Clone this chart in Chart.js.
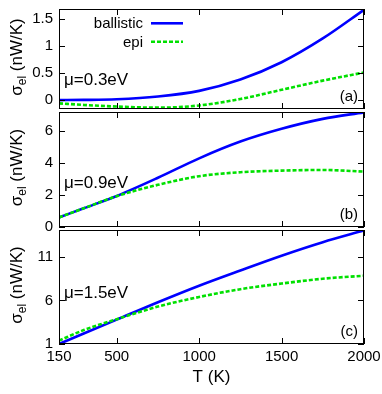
<!DOCTYPE html>
<html>
<head>
<meta charset="utf-8">
<script src="https://cdn.jsdelivr.net/npm/chart.js@4.4.1/dist/chart.umd.min.js"></script>
<style>
    body { margin: 0; background: #fff; }
    #wrap { position: relative; width: 382px; height: 394px; overflow: hidden; }
    canvas { position: absolute; left: 0; }
</style>
</head>
<body>
<div id="wrap">
    <canvas id="chartA" width="382" height="125" style="top:0px"></canvas>
    <canvas id="chartB" width="382" height="140" style="top:100px"></canvas>
    <canvas id="chartC" width="382" height="176" style="top:218px"></canvas>
</div>
<script>
// nhiệt độ T (K)
var temps = [150, 300, 500, 750, 1000, 1250, 1500, 1750, 2000];

// mu = 0.3 eV
var ballisticA = [0.0, 0.003, 0.015, 0.065, 0.17, 0.38, 0.7, 1.14, 1.67];
var epiA = [-0.06, -0.09, -0.12, -0.14, -0.1, 0.02, 0.19, 0.36, 0.51];
// mu = 0.9 eV
var ballisticB = [0.6, 1.17, 1.94, 3.08, 4.3, 5.35, 6.15, 6.77, 7.18];
var epiB = [0.6, 1.17, 1.93, 2.64, 3.18, 3.43, 3.53, 3.57, 3.47];
// mu = 1.5 eV
var ballisticC = [1.0, 2.2, 3.8, 5.8, 7.7, 9.45, 11.15, 12.7, 14.05];
var epiC = [1.39, 2.6, 3.85, 5.3, 6.4, 7.3, 7.95, 8.5, 8.85];

var ticksT = [150, 500, 1000, 1500, 2000];
var ticksA = [0, 0.5, 1, 1.5];
var ticksB = [0, 2, 4, 6];
var ticksC = [1, 6, 11];

var FONT = '"Liberation Sans", Arial, sans-serif';

// khung + vạch chia hướng vào trong, nhãn trục y, nhãn mu, (a)/(b)/(c), chú thích
var framePlugin = {
    id: 'frame',
    afterDraw(chart) {
        const ctx = chart.ctx;
        const area = chart.chartArea;
        const xs = chart.scales.x;
        const ys = chart.scales.y;
        const opt = chart.options.plugins.frame;
        const tl = 6;

        ctx.save();
        ctx.strokeStyle = '#000';
        ctx.lineWidth = 1;
        ctx.strokeRect(area.left + 0.5, area.top + 0.5, area.width - 1, area.height - 1);

        ctx.beginPath();
        ticksT.forEach(v => {
            const px = Math.round(xs.getPixelForValue(v)) + 0.5;
            ctx.moveTo(px, area.bottom);
            ctx.lineTo(px, area.bottom - tl);
            ctx.moveTo(px, area.top);
            ctx.lineTo(px, area.top + tl);
        });
        opt.yTicks.forEach(v => {
            const py = Math.round(ys.getPixelForValue(v)) + 0.5;
            ctx.moveTo(area.left, py);
            ctx.lineTo(area.left + tl, py);
            ctx.moveTo(area.right, py);
            ctx.lineTo(area.right - tl, py);
        });
        ctx.stroke();

        ctx.fillStyle = '#000';

        // tiêu đề trục y: sigma_el (nW/K)
        const cy = (area.top + area.bottom) / 2 - 2;
        ctx.save();
        ctx.translate(22, cy);
        ctx.rotate(-Math.PI / 2);
        ctx.textBaseline = 'alphabetic';
        ctx.textAlign = 'left';
        ctx.font = '17px ' + FONT;
        const wSig = ctx.measureText('σ').width;
        const wRest = ctx.measureText(' (nW/K)').width;
        ctx.font = '12px ' + FONT;
        const wSub = ctx.measureText('el').width;
        let x0 = -(wSig + wSub + wRest) / 2;
        ctx.font = '17px ' + FONT;
        ctx.fillText('σ', x0, 0);
        ctx.font = '12px ' + FONT;
        ctx.fillText('el', x0 + wSig, 4);
        ctx.font = '17px ' + FONT;
        ctx.fillText(' (nW/K)', x0 + wSig + wSub, 0);
        ctx.restore();

        // nhãn mu
        ctx.font = '17px ' + FONT;
        ctx.textAlign = 'left';
        ctx.textBaseline = 'alphabetic';
        ctx.fillText(opt.mu, area.left + 5, area.top + opt.muOffset);

        // nhãn panel
        ctx.font = '15px ' + FONT;
        ctx.textAlign = 'right';
        ctx.fillText(opt.tag, area.right - 6, area.bottom - 8);

        // chú thích
        if (opt.legend) {
            chart.data.datasets.forEach((ds, i) => {
                const yLine = area.top + 14.3 + i * 18.4;
                ctx.font = '15px ' + FONT;
                ctx.textAlign = 'right';
                ctx.fillStyle = '#000';
                ctx.fillText(ds.label, 143, area.top + 19 + i * 18.5);
                ctx.beginPath();
                ctx.strokeStyle = ds.borderColor;
                ctx.lineWidth = ds.borderWidth;
                ctx.setLineDash(ds.borderDash || []);
                ctx.moveTo(151, yLine);
                ctx.lineTo(183, yLine);
                ctx.stroke();
                ctx.setLineDash([]);
            });
        }
        ctx.restore();
    }
};

function makeChart(id, yMin, yMax, yTicks, ballistic, epi, extra) {
    const showX = !!extra.showX;
    return new Chart(document.getElementById(id), {
        type: 'line',
        data: {
            datasets: [
                {
                    label: 'ballistic',
                    data: temps.map((t, i) => ({ x: t, y: ballistic[i] })),
                    borderColor: '#0000ff',
                    borderWidth: 2.6,
                    pointRadius: 0,
                    cubicInterpolationMode: 'monotone',
                    fill: false,
                    order: 1
                },
                {
                    label: 'epi',
                    data: temps.map((t, i) => ({ x: t, y: epi[i] })),
                    borderColor: '#00e000',
                    borderWidth: 2.6,
                    borderDash: [4, 2],
                    pointRadius: 0,
                    cubicInterpolationMode: 'monotone',
                    fill: false,
                    order: 0
                }
            ]
        },
        options: {
            responsive: false,
            animation: false,
            layout: { padding: extra.padding },
            plugins: {
                legend: { display: false },
                tooltip: { enabled: false },
                frame: {
                    yTicks: yTicks,
                    mu: extra.mu,
                    muOffset: extra.muOffset,
                    tag: extra.tag,
                    legend: extra.legend
                }
            },
            scales: {
                x: {
                    type: 'linear',
                    min: 150,
                    max: 2000,
                    display: showX,
                    afterBuildTicks: s => { s.ticks = ticksT.map(v => ({ value: v })); },
                    afterFit: s => { if (showX) { s.height = 50; } s.paddingLeft = 0; s.paddingRight = 0; },
                    grid: { display: false, drawTicks: false },
                    border: { display: false },
                    ticks: {
                        color: '#000',
                        padding: 4,
                        maxRotation: 0,
                        autoSkip: false,
                        font: { family: FONT, size: 15 },
                        callback: v => String(v)
                    },
                    title: {
                        display: showX,
                        text: 'T (K)',
                        color: '#000',
                        font: { family: FONT, size: 17 },
                        padding: { top: 0, bottom: 6 }
                    }
                },
                y: {
                    min: yMin,
                    max: yMax,
                    afterBuildTicks: s => { s.ticks = yTicks.map(v => ({ value: v })); },
                    afterFit: s => { s.width = 59; s.paddingTop = 0; s.paddingBottom = 0; },
                    grid: { display: false, drawTicks: false },
                    border: { display: false },
                    ticks: {
                        color: '#000',
                        padding: 6,
                        font: { family: FONT, size: 15 },
                        callback: v => String(v)
                    }
                }
            }
        },
        plugins: [framePlugin]
    });
}

makeChart('chartA', -0.165, 1.685, ticksA, ballisticA, epiA, {
    padding: { top: 9, right: 18, bottom: 16, left: 0 },
    mu: 'μ=0.3eV', muOffset: 76, tag: '(a)', legend: true
});
makeChart('chartB', 0, 7.2, ticksB, ballisticB, epiB, {
    padding: { top: 12, right: 18, bottom: 13, left: 0 },
    mu: 'μ=0.9eV', muOffset: 75.5, tag: '(b)'
});
makeChart('chartC', 1, 14.1, ticksC, ballisticC, epiC, {
    padding: { top: 12, right: 18, bottom: 0, left: 0 },
    mu: 'μ=1.5eV', muOffset: 67.5, tag: '(c)', showX: true
});
</script>
</body>
</html>
